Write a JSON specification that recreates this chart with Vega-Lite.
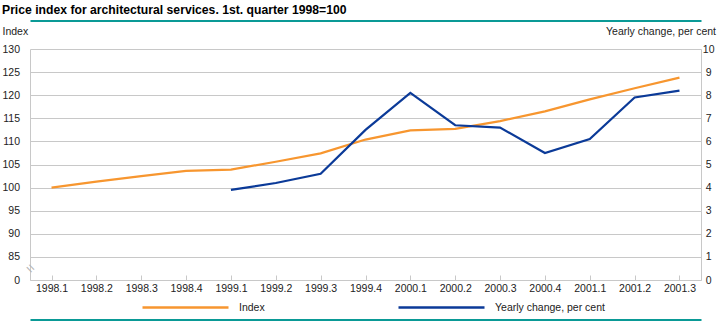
{
  "$schema": "https://vega.github.io/schema/vega-lite/v6.json",
  "width": 671,
  "height": 231,
  "autosize": {"type": "none"},
  "padding": {"left": 30, "top": 49, "right": 20, "bottom": 41},
  "background": "white",
  "title": {
    "text": "Price index for architectural services. 1st. quarter 1998=100",
    "anchor": "start",
    "frame": "group",
    "dx": -28,
    "offset": -5.5,
    "baseline": "alphabetic",
    "font": "Liberation Sans",
    "fontSize": 12.2,
    "fontWeight": "bold",
    "color": "#000000"
  },
  "datasets": {
    "q": [
      {"quarter": "1998.1", "index": 100.0, "change": null},
      {"quarter": "1998.2", "index": 101.3, "change": null},
      {"quarter": "1998.3", "index": 102.5, "change": null},
      {"quarter": "1998.4", "index": 103.6, "change": null},
      {"quarter": "1999.1", "index": 103.9, "change": 3.9},
      {"quarter": "1999.2", "index": 105.6, "change": 4.2},
      {"quarter": "1999.3", "index": 107.4, "change": 4.6},
      {"quarter": "1999.4", "index": 110.4, "change": 6.5},
      {"quarter": "2000.1", "index": 112.4, "change": 8.1},
      {"quarter": "2000.2", "index": 112.7, "change": 6.7},
      {"quarter": "2000.3", "index": 114.4, "change": 6.6},
      {"quarter": "2000.4", "index": 116.5, "change": 5.5},
      {"quarter": "2001.1", "index": 119.1, "change": 6.1},
      {"quarter": "2001.2", "index": 121.5, "change": 7.9},
      {"quarter": "2001.3", "index": 123.8, "change": 8.2}
    ],
    "brk": [
      {"quarter": "1998.1", "v": 82.4}
    ]
  },
  "layer": [
    {
      "data": {"name": "q"},
      "mark": {"type": "line", "strokeWidth": 2.2},
      "encoding": {
        "x": {
          "field": "quarter", "type": "ordinal",
          "scale": {"type": "point", "padding": 0.48, "domain": ["1998.1","1998.2","1998.3","1998.4","1999.1","1999.2","1999.3","1999.4","2000.1","2000.2","2000.3","2000.4","2001.1","2001.2","2001.3"]},
          "axis": {"orient": "bottom", "title": null, "labelAngle": 0, "grid": false, "domainColor": "#c8c8c8", "tickColor": "#c8c8c8", "tickSize": -5, "labelPadding": 8, "labelFontSize": 10.5, "labelColor": "#222222"}
        },
        "y": {
          "field": "index", "type": "quantitative",
          "scale": {"domain": [80, 130], "zero": false, "nice": false},
          "axis": {
            "orient": "left", "values": [80, 85, 90, 95, 100, 105, 110, 115, 120, 125, 130],
            "labelExpr": "datum.value == 80 ? '0' : datum.label",
            "grid": true, "gridColor": "#c8c8c8", "domainColor": "#c8c8c8",
            "ticks": false, "tickSize": 0, "labelPadding": 10.5, "labelFontSize": 10.5, "labelColor": "#222222",
            "title": "Index", "titleAngle": 0, "titleAlign": "left", "titleBaseline": "alphabetic",
            "titleX": -28, "titleY": -14.7, "titleFontWeight": "normal", "titleFontSize": 10.5, "titleColor": "#222222"
          }
        },
        "color": {
          "datum": "Index", "type": "nominal",
          "scale": {"domain": ["Index", "Yearly change, per cent"], "range": ["#f7962f", "#0b3a98"]},
          "legend": {
            "title": null, "orient": "none", "legendX": 111, "legendY": 214, "direction": "horizontal",
            "symbolType": "stroke", "symbolSize": 7396, "symbolStrokeWidth": 2.5,
            "labelFontSize": 10.5, "labelOffset": 9, "columnPadding": 128, "labelColor": "#222222"
          }
        }
      }
    },
    {
      "data": {"name": "q"},
      "mark": {"type": "line", "strokeWidth": 2.2},
      "encoding": {
        "x": {
          "field": "quarter", "type": "ordinal",
          "scale": {"type": "point", "padding": 0.48, "domain": ["1998.1","1998.2","1998.3","1998.4","1999.1","1999.2","1999.3","1999.4","2000.1","2000.2","2000.3","2000.4","2001.1","2001.2","2001.3"]},
          "axis": {"orient": "top", "offset": 28.5, "title": null, "labels": false, "ticks": false, "grid": false, "domainColor": "#0a9a96", "domainWidth": 2}
        },
        "y": {
          "field": "change", "type": "quantitative",
          "scale": {"domain": [0, 10], "nice": false},
          "axis": {
            "orient": "right", "values": [0, 1, 2, 3, 4, 5, 6, 7, 8, 9, 10],
            "grid": false, "ticks": false, "tickSize": 0, "domainColor": "#c8c8c8",
            "labelAlign": "center", "labelPadding": 7.2, "labelFontSize": 10.5, "labelColor": "#222222",
            "title": "Yearly change, per cent", "titleAngle": 0, "titleAlign": "right", "titleBaseline": "alphabetic",
            "titleX": 14.5, "titleY": -14.7, "titleFontWeight": "normal", "titleFontSize": 10.5, "titleColor": "#222222"
          }
        },
        "color": {"datum": "Yearly change, per cent", "type": "nominal"}
      }
    },
    {
      "data": {"name": "brk"},
      "mark": {"type": "text", "text": "=", "angle": 45, "fontSize": 14, "color": "#b4b4b4", "baseline": "middle", "align": "center"},
      "encoding": {
        "x": {
          "field": "quarter", "type": "ordinal",
          "scale": {"type": "point", "padding": 0, "domain": ["1998.1","1998.2","1998.3","1998.4","1999.1","1999.2","1999.3","1999.4","2000.1","2000.2","2000.3","2000.4","2001.1","2001.2","2001.3"]},
          "axis": {"orient": "bottom", "offset": 39.5, "title": null, "labels": false, "ticks": false, "grid": false, "domainColor": "#0a9a96", "domainWidth": 2}
        },
        "y": {
          "field": "v", "type": "quantitative",
          "scale": {"domain": [80, 130], "zero": false, "nice": false},
          "axis": null
        }
      }
    }
  ],
  "resolve": {
    "scale": {"x": "independent", "y": "independent"},
    "axis": {"x": "independent", "y": "independent"}
  },
  "config": {
    "view": {"stroke": null},
    "font": "Liberation Sans"
  }
}
